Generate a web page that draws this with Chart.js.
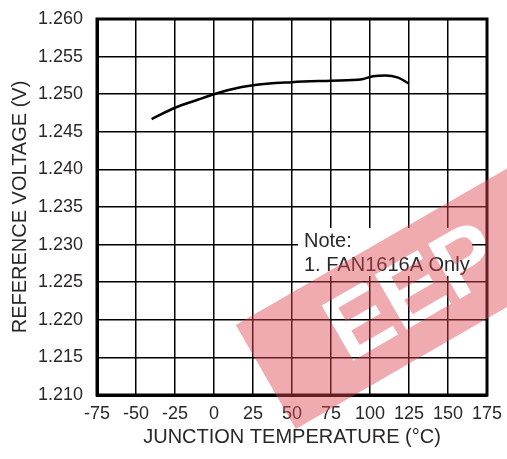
<!DOCTYPE html>
<html>
<head>
<meta charset="utf-8">
<script src="https://cdn.jsdelivr.net/npm/chart.js@4.4.1/dist/chart.umd.min.js"></script>
<style>
html,body{margin:0;padding:0;background:#fff;}
#wrap{position:relative;width:507px;height:459px;}
</style>
</head>
<body>
<div id="wrap"><canvas id="c" width="507" height="459"></canvas></div>
<script>
// reference voltage vs junction temperature
const tempC = [-40, -25, -10, 0, 10, 25, 50, 75, 95, 102, 110, 118, 125];
const vref = [1.2467, 1.2482, 1.2493, 1.2500, 1.2506, 1.2512, 1.2516, 1.2518, 1.2520, 1.2524, 1.2525, 1.2522, 1.2514];
const xMin = -75, xMax = 175, xStep = 25;
const yMin = 1.210, yMax = 1.260, yStep = 0.005;
const noteLines = ["Note:", "1. FAN1616A Only"];
const watermark = "EEP";

const FONT = "'Liberation Sans', Arial, Helvetica, sans-serif";
const TXT = "#2a2728";

const framePlugin = {
  id: "frame",
  afterDatasetsDraw(chart){
    const a = chart.chartArea, ctx = chart.ctx;
    ctx.save();
    ctx.strokeStyle = "#000";
    ctx.lineWidth = 3;
    ctx.strokeRect(a.left, a.top, a.right - a.left, a.bottom - a.top);
    ctx.restore();
  }
};

const notePlugin = {
  id: "note",
  afterDraw(chart){
    const ctx = chart.ctx, a = chart.chartArea;
    const x0 = a.left + 201, y0 = a.top + 209;
    ctx.save();
    ctx.fillStyle = "#fff";
    ctx.fillRect(x0, y0, 174, 48);
    ctx.fillStyle = TXT;
    ctx.font = "20px " + FONT;
    ctx.textBaseline = "alphabetic";
    ctx.fillText(noteLines[0], x0 + 6, y0 + 19);
    ctx.fillText(noteLines[1], x0 + 6, y0 + 43);
    // watermark band with cut-out letters
    const off = document.createElement("canvas");
    off.width = chart.width; off.height = chart.height;
    const o = off.getContext("2d");
    o.translate(413, 292);
    o.rotate(-30 * Math.PI / 180);
    o.fillStyle = "rgb(222,70,80)";
    o.fillRect(-170, -60, 360, 120);
    o.globalCompositeOperation = "destination-out";
    o.font = "bold 92px " + FONT;
    o.textAlign = "center";
    o.textBaseline = "middle";
    o.fillText(watermark, 0, 4);
    ctx.globalAlpha = 0.45;
    ctx.drawImage(off, 0, 0);
    ctx.restore();
  }
};

new Chart(document.getElementById("c"), {
  type: "line",
  data: {
    datasets: [{
      data: tempC.map(function(t, i){ return {x: t, y: vref[i]}; }),
      borderColor: "#000",
      borderWidth: 2.5,
      pointRadius: 0,
      cubicInterpolationMode: "monotone",
      fill: false
    }]
  },
  options: {
    responsive: false,
    animation: false,
    layout: {padding: {left: 8, right: 20, top: 19, bottom: 0}},
    plugins: {legend: {display: false}, tooltip: {enabled: false}},
    scales: {
      x: {
        type: "linear", min: xMin, max: xMax,
        grid: {color: "#000", lineWidth: 1.5, drawTicks: false},
        border: {color: "#000", width: 3},
        ticks: {stepSize: xStep, color: TXT, font: {size: 18, family: FONT}, padding: 8, maxRotation: 0},
        title: {display: true, text: "JUNCTION TEMPERATURE (°C)", color: TXT, font: {size: 20, family: FONT}, padding: {top: 0, bottom: 10}},
        afterFit: function(s){ s.height = 64; s.paddingLeft = 0; s.paddingRight = 0; }
      },
      y: {
        min: yMin, max: yMax,
        grid: {color: "#000", lineWidth: 1.5, drawTicks: false},
        border: {color: "#000", width: 3},
        ticks: {stepSize: yStep, color: TXT, font: {size: 18, family: FONT}, padding: 14,
          callback: function(v){ return v.toFixed(3); }},
        title: {display: true, text: "REFERENCE VOLTAGE (V)", color: TXT, font: {size: 20, family: FONT}, padding: {top: 0, bottom: 0}},
        afterFit: function(s){ s.width = 89; s.paddingTop = 0; s.paddingBottom = 0; }
      }
    }
  },
  plugins: [framePlugin, notePlugin]
});
</script>
</body>
</html>
